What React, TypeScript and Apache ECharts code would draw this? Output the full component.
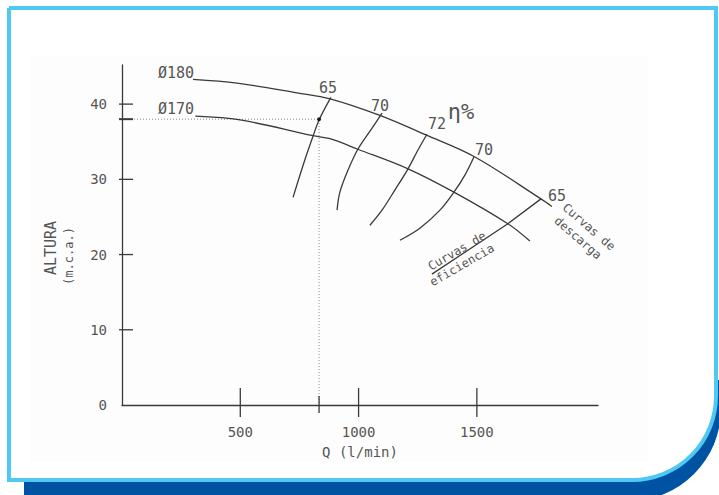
import React, { useEffect, useRef } from "react";
import * as echarts from "echarts";

// Axis ticks / labels
const qTicks = [500, 1000, 1500];
const hTicks = [10, 20, 30, 40];
const hLabels = [0, 10, 20, 30, 40];
const qMax = 2012;
const hMax = 45.2;

// Operating point
const opQ = 833;
const opH = 38;

// Discharge curves (Q l/min, H m.c.a.)
const d180Q = [300, 486, 740, 880, 1090, 1285, 1490, 1771, 1817];
const d180H = [43.3, 42.8, 41.5, 40.7, 38.5, 35.9, 33.0, 27.4, 26.4];
const d170Q = [310, 499, 807, 879, 997, 1209, 1403, 1631, 1724];
const d170H = [38.4, 37.9, 35.8, 35.4, 34.0, 31.4, 28.3, 24.1, 21.8];

// Efficiency curves
const e65aQ = [883, 833, 807, 773, 723];
const e65aH = [40.9, 37.9, 35.7, 32.6, 27.6];
const e70aQ = [1099, 1057, 997, 955, 921, 909];
const e70aH = [38.8, 36.8, 34.0, 31.2, 28.3, 25.9];
const e72Q = [1289, 1251, 1209, 1154, 1099, 1048];
const e72H = [36.0, 33.9, 31.4, 28.6, 25.9, 23.9];
const e70bQ = [1488, 1450, 1403, 1344, 1259, 1175];
const e70bH = [33.0, 30.6, 28.3, 25.9, 23.5, 21.9];
const e65bQ = [1771, 1631, 1310];
const e65bH = [27.4, 24.1, 17.4];

const zip = (q: number[], h: number[]) => q.map((v, i) => [v, h[i]]);

const FONT = "DejaVu Sans Mono";
const TXT = "#555555";
const LINE = "#3a3a3a";

export default function App() {
  const ref = useRef<HTMLDivElement>(null);
  useEffect(() => {
    if (!ref.current) return;
    const chart = echarts.init(ref.current, undefined, { renderer: "svg" });
    const curve = (q: number[], h: number[], smooth = 0.35) => ({
      type: "line",
      data: zip(q, h),
      smooth,
      symbol: "none",
      silent: true,
      lineStyle: { color: LINE, width: 1.3 },
      z: 4,
    });
    const txt = (text: string, x: number, y: number, extra: any = {}) => ({
      type: "text",
      x,
      y,
      z: 10,
      rotation: extra.rotation || 0,
      style: {
        text,
        fill: TXT,
        font: `${extra.size || 14}px "${FONT}"`,
        align: extra.align || "center",
        verticalAlign: "middle",
      },
    });
    const deg = Math.PI / 180;
    chart.setOption({
      animation: false,
      grid: { left: 122, top: 65, width: 476, height: 340, containLabel: false, outerBoundsMode: "none" },
      xAxis: {
        type: "value",
        min: 0,
        max: qMax,
        interval: 500,
        axisLine: { show: true, lineStyle: { color: LINE, width: 1.3 } },
        axisTick: { show: false },
        splitLine: { show: false },
        axisLabel: {
          margin: 20,
          fontSize: 14,
          fontFamily: FONT,
          color: TXT,
          formatter: (v: number) => (qTicks.includes(v) ? String(v) : ""),
        },
        name: "Q (l/min)",
        nameLocation: "middle",
        nameGap: 40,
        nameTextStyle: { fontSize: 14, fontFamily: FONT, color: TXT },
      },
      yAxis: {
        type: "value",
        min: 0,
        max: hMax,
        interval: 10,
        axisLine: { show: true, lineStyle: { color: LINE, width: 1.3 } },
        axisTick: { show: false },
        splitLine: { show: false },
        axisLabel: {
          margin: 15,
          fontSize: 14,
          fontFamily: FONT,
          color: TXT,
          formatter: (v: number) => (hLabels.includes(v) ? String(v) : ""),
        },
      },
      series: [
        curve(d180Q, d180H),
        curve(d170Q, d170H),
        curve(e65aQ, e65aH),
        curve(e70aQ, e70aH),
        curve(e72Q, e72H),
        curve(e70bQ, e70bH),
        curve(e65bQ, e65bH, 0),
        {
          type: "line",
          data: [
            [0, opH],
            [opQ, opH],
            [opQ, 0],
          ],
          symbol: "none",
          silent: true,
          lineStyle: { color: "#888", width: 1, type: [1, 2] },
          z: 3,
        },
        {
          type: "scatter",
          data: [[opQ, opH]],
          symbolSize: 4,
          itemStyle: { color: "#000" },
          silent: true,
          z: 6,
        },
        {
          type: "custom",
          silent: true,
          z: 5,
          data: qTicks.concat([opQ]).map((v) => [v, 0]),
          renderItem: (_p: any, api: any) => {
            const v = api.value(0);
            const pt = api.coord([v, 0]);
            const op = v === opQ;
            return {
              type: "line",
              shape: { x1: pt[0], y1: pt[1] - (op ? 9 : 17), x2: pt[0], y2: pt[1] + (op ? 8 : 12) },
              style: { stroke: LINE, lineWidth: 1.3 },
            };
          },
        },
        {
          type: "custom",
          silent: true,
          z: 5,
          data: hTicks.concat([opH]).map((v) => [0, v]),
          renderItem: (_p: any, api: any) => {
            const v = api.value(1);
            const pt = api.coord([0, v]);
            const op = v === opH;
            return {
              type: "line",
              shape: { x1: pt[0] - 3, y1: pt[1], x2: pt[0] + 11, y2: pt[1] },
              style: { stroke: LINE, lineWidth: op ? 2 : 1.3 },
            };
          },
        },
      ],
      graphic: [
        {
          type: "rect",
          z: -12,
          silent: true,
          shape: { x: 24, y: 380, width: 697, height: 121, r: [0, 0, 92, 0] },
          style: { fill: "#0052a2" },
        },
        {
          type: "rect",
          z: -11,
          silent: true,
          shape: { x: 9, y: 8, width: 707, height: 472, r: [0, 0, 84, 0] },
          style: { fill: "#ffffff", stroke: "#4fc9f2", lineWidth: 4 },
        },
        {
          type: "rect",
          z: -10,
          silent: true,
          shape: { x: 30, y: 55, width: 618, height: 407 },
          style: { fill: "#fdfdfd" },
        },
        txt("Ø180", 158, 73, { align: "left", size: 15 }),
        txt("Ø170", 158, 109, { align: "left", size: 15 }),
        txt("65", 328, 88, { size: 15 }),
        txt("70", 380, 106, { size: 15 }),
        txt("72", 437, 124, { size: 15 }),
        txt("η%", 461, 111, { size: 22 }),
        txt("70", 484, 150, { size: 15 }),
        txt("65", 557, 196, { size: 15 }),
        txt("Curvas de", 589, 227, { size: 12, rotation: -41 * deg }),
        txt("descarga", 578, 238, { size: 12, rotation: -41 * deg }),
        txt("Curvas de", 457, 251, { size: 12, rotation: 30 * deg }),
        txt("eficiencia", 462, 265, { size: 12, rotation: 30 * deg }),
        txt("ALTURA", 51, 248, { size: 15, rotation: 90 * deg }),
        txt("(m.c.a.)", 69, 256, { size: 12, rotation: 90 * deg }),
      ],
    });
    return () => chart.dispose();
  }, []);
  return (
    <div
      ref={ref}
      style={{ position: "fixed", left: 0, top: 0, width: 719, height: 495, background: "#fff" }}
    />
  );
}
